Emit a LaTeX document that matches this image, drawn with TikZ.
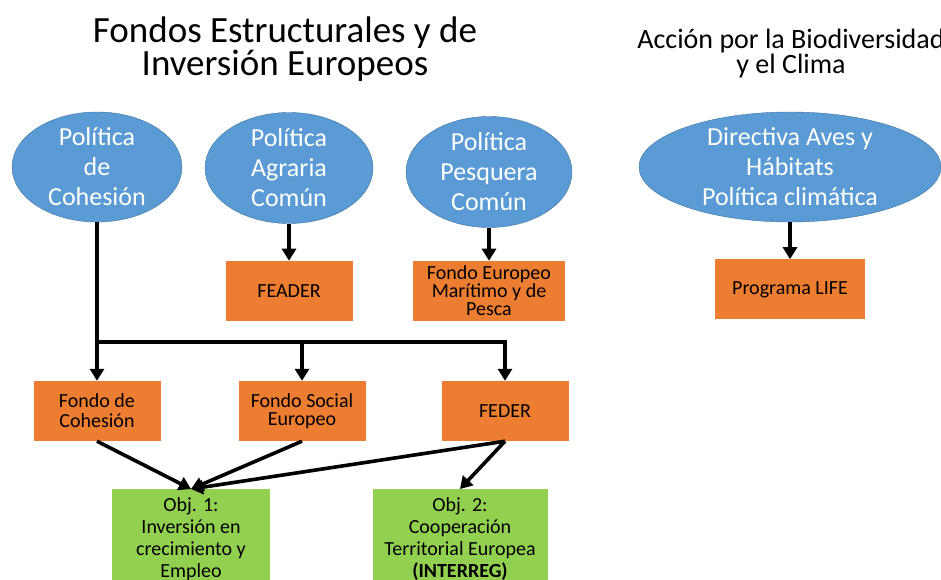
\documentclass[tikz,border=0pt]{standalone}
\usepackage{fontspec}
\setmainfont{Carlito}
\usepackage{xcolor}
\usetikzlibrary{positioning,shapes.geometric,arrows.meta}
\definecolor{fondoBlue}{HTML}{5B9BD5}
\definecolor{fondoEdge}{HTML}{41719C}
\definecolor{fondoOrange}{HTML}{ED7D31}
\definecolor{fondoGreen}{HTML}{92D050}

\begin{document}
\begin{tikzpicture}[x=1pt, y=-1pt, policy/.style={ellipse, draw=fondoEdge, fill=fondoBlue, text=white, align=center, inner xsep=0pt, inner ysep=-8pt, font=\fontsize{26}{30}\selectfont}, fund/.style={rectangle, fill=fondoOrange, text=black, minimum width=127pt, minimum height=60pt, align=center, font=\fontsize{20}{18}\selectfont}, goal/.style={rectangle, fill=fondoGreen, text=black, minimum height=100pt, anchor=north, align=center, font=\fontsize{20}{22}\selectfont}, title/.style={align=center, text=black}, link/.style={line width=3.6pt, -{Triangle[length=12pt,width=14pt]}}]
\useasboundingbox (0,0) rectangle (941,580);
\clip (0,0) rectangle (941,580);
\node[title, font=\fontsize{37}{31}\selectfont] (fesititle) at (285,49) {Fondos Estructurales y de\\Inversión Europeos};
\node[title, font=\fontsize{28}{25}\selectfont] (climatitle) at (791,54) {Acción por la Biodiversidad\\y el Clima};
\node[policy, minimum width=170pt, minimum height=110pt] (cohesion) at (97,167) {Política\\de\\Cohesión};
\node[policy, minimum width=168pt, minimum height=111pt] (agraria) at (289,168) {Política\\Agraria\\Común};
\node[policy, minimum width=166pt, minimum height=111pt] (pesquera) at (489,172) {Política\\Pesquera\\Común};
\node[policy, minimum width=302pt, minimum height=110pt] (aves) at (790,167) {Directiva Aves y\\Hábitats\\Política climática};
\node[fund] (feader) [below=37pt of agraria] {FEADER};
\node[fund, minimum width=152pt] (femp) [below=33pt of pesquera] {Fondo Europeo\\Marítimo y de\\Pesca};
\node[fund, minimum width=150pt] (life) [below=37pt of aves] {Programa LIFE};
\node[fund, font=\fontsize{20}{20}\selectfont] (fcohesion) at (97,411) {Fondo de\\Cohesión};
\node[fund] (fse) at (302,411) {Fondo Social\\Europeo};
\node[fund] (feder) at (505,411) {FEDER};
\node[goal, minimum width=158pt] (obj1) at (191,489) {Obj. 1:\\Inversión en\\crecimiento y\\Empleo};
\node[goal, minimum width=175pt] (obj2) at (460,489) {Obj. 2:\\Cooperación\\Territorial Europea\\\textbf{(INTERREG)}};
\coordinate (split) at (97,342);
\draw[link] (agraria) -- (feader);
\draw[link] (pesquera) -- (femp);
\draw[link] (aves) -- (life);
\draw[link] (cohesion.south) -- (fcohesion.north);
\draw[link] (split) -| (feder.north);
\draw[link] (split -| fse.north) -- (fse.north);
\draw[link] (fcohesion.south) -- (obj1.north);
\draw[link] (fse.south) -- (obj1.north);
\draw[link] (feder.south) -- (obj1.north);
\draw[link] (feder.south) -- (obj2.north);
\end{tikzpicture}
\end{document}
